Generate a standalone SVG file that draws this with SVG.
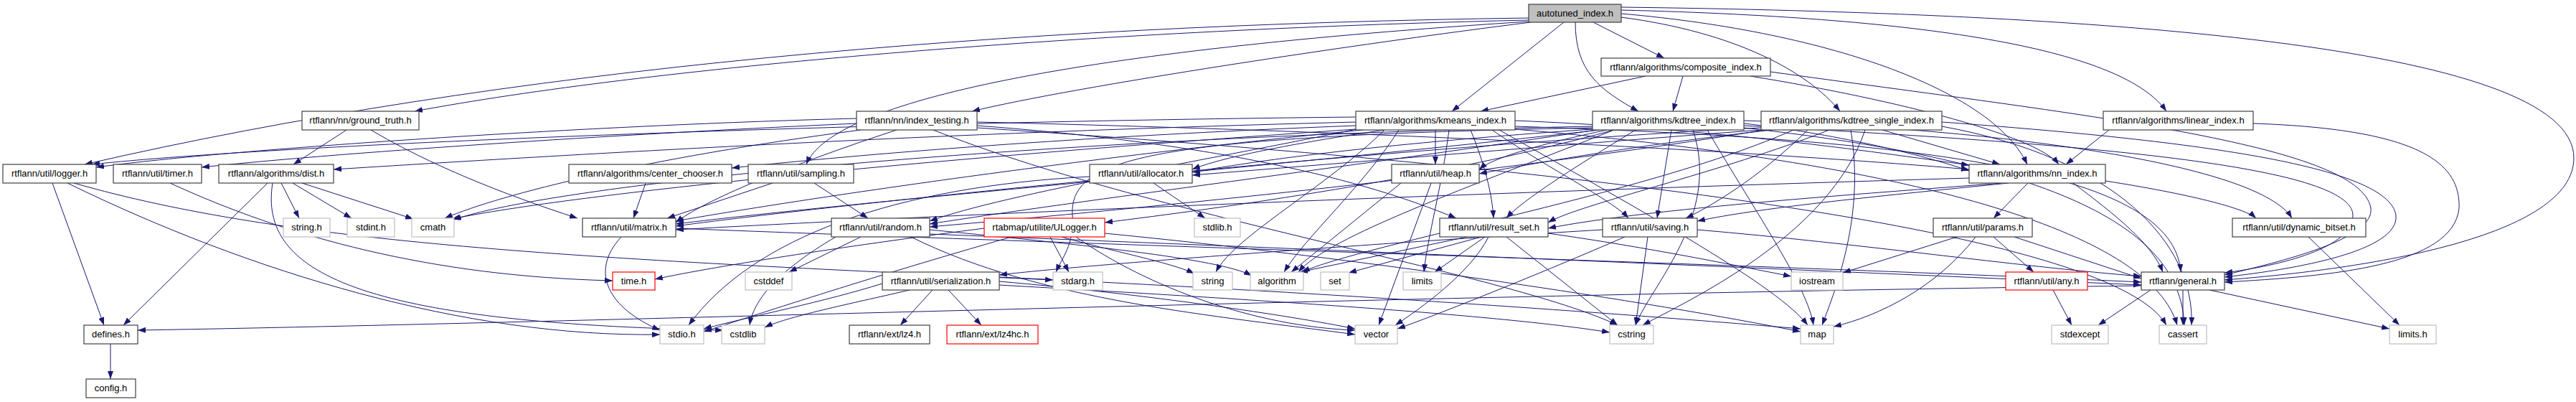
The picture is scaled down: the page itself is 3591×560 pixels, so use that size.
<svg xmlns="http://www.w3.org/2000/svg" width="3591" height="560" viewBox="0 0 3591 560">
<defs>
<marker id="a" markerWidth="11" markerHeight="8" refX="11" refY="4" orient="auto" markerUnits="userSpaceOnUse"><path d="M0,0 L11,4 L0,8 z" fill="#191970"/></marker>
<style>
.n rect{fill:#fff;stroke:#404040;stroke-width:1.2}
.s rect{fill:#fff;stroke:#bfbfbf;stroke-width:1.2}
.r rect{fill:#fff;stroke:#f00;stroke-width:1.2}
#n_auto rect{fill:#bfbfbf}
text{font-family:"Liberation Sans",Arial,sans-serif;font-size:13px;text-anchor:middle;fill:#000}
#edges path{fill:none;stroke:#191970;stroke-width:1;marker-end:url(#a)}
</style>
</defs>
<rect width="3591" height="560" fill="#fff"/>
<g id="edges">
<path d="M2131,25 C1400,35 700,95 118,229"/>
<path d="M2131,28 C1500,42 900,95 578,155"/>
<path d="M2134,31 C1900,60 1500,120 1355,155"/>
<path d="M2131,30 C1500,70 1160,140 1124,229"/>
<path d="M2180,31 L2024,155"/>
<path d="M2196,31 C2196,100 2230,125 2284,155"/>
<path d="M2221,31 L2320,81"/>
<path d="M2260,24 C2420,45 2520,100 2565,155"/>
<path d="M2260,19 C2560,45 2780,130 2826,229"/>
<path d="M2260,14 C2700,25 2960,70 3020,155"/>
<path d="M2260,10 C2900,18 3588,60 3588,220 C3588,330 3300,375 3101,390"/>
<path d="M2294,106 L2064,155"/>
<path d="M2346,106 L2332,155"/>
<path d="M2440,106 C2650,140 2840,190 2870,229"/>
<path d="M2468,100 C2900,160 3290,200 3305,290 C3310,330 3200,360 3101,383"/>
<path d="M483,181 L409,229"/>
<path d="M517,181 C600,230 700,270 805,304"/>
<path d="M1194,165 C800,175 300,210 134,233"/>
<path d="M1194,172 C900,185 500,210 281,233"/>
<path d="M1250,181 C1100,230 980,280 942,310"/>
<path d="M1362,170 C2000,185 2500,215 2745,236"/>
<path d="M1362,175 C1700,200 1900,250 2030,304"/>
<path d="M1301,181 C1600,300 2100,380 2255,453"/>
<path d="M1362,178 C2300,240 2950,330 3020,453"/>
<path d="M1200,181 C900,220 700,270 620,304"/>
<path d="M1890,163 C1200,170 400,200 128,229"/>
<path d="M1890,170 C1300,185 800,215 465,236"/>
<path d="M1890,175 C1500,190 1200,215 1020,234"/>
<path d="M1900,181 C1500,220 1100,280 942,308"/>
<path d="M1930,181 C1800,200 1700,220 1662,236"/>
<path d="M2001,181 L2001,229"/>
<path d="M1900,178 C1700,220 1400,270 1296,308"/>
<path d="M2050,181 C2070,230 2080,270 2082,304"/>
<path d="M2080,181 C2150,230 2250,280 2270,304"/>
<path d="M2112,168 C2400,180 2600,210 2745,230"/>
<path d="M2112,176 C2700,195 3030,240 3040,379"/>
<path d="M1950,181 C1900,260 1820,330 1790,379"/>
<path d="M1930,181 C1850,260 1720,330 1695,379"/>
<path d="M2090,181 C2300,300 2480,400 2520,453"/>
<path d="M2112,180 C2700,230 3000,330 3035,453"/>
<path d="M2020,181 C2010,260 1990,330 1985,379"/>
<path d="M1890,180 C1300,220 800,270 630,305"/>
<path d="M2431,175 C2900,200 3280,230 3280,300 C3280,345 3180,370 3101,380"/>
<path d="M2431,172 C2550,185 2680,215 2745,238"/>
<path d="M2431,168 C2800,180 3150,230 3195,304"/>
<path d="M2230,181 C1800,230 1200,280 942,312"/>
<path d="M2280,181 C2200,230 2120,280 2100,304"/>
<path d="M2240,181 C2150,200 2080,220 2062,236"/>
<path d="M2220,180 C2000,195 1800,215 1662,240"/>
<path d="M2225,181 C1900,230 1500,280 1296,312"/>
<path d="M2330,181 L2310,304"/>
<path d="M2250,181 C2050,260 1850,330 1810,379"/>
<path d="M2380,181 C2450,300 2520,400 2528,453"/>
<path d="M2431,178 C2900,230 3040,330 3045,453"/>
<path d="M2360,181 C2400,300 2300,400 2280,453"/>
<path d="M2220,178 C1600,190 1490,220 1495,300 C1498,340 1480,360 1472,379"/>
<path d="M2220,176 C1500,190 800,250 632,306"/>
<path d="M2250,181 C2000,250 1700,290 1540,310"/>
<path d="M2707,170 C3050,195 3330,230 3340,300 C3345,350 3200,375 3101,386"/>
<path d="M2624,181 L2788,229"/>
<path d="M2455,178 C2000,200 1200,280 942,315"/>
<path d="M2550,181 C2400,240 2200,285 2158,310"/>
<path d="M2470,181 C2300,200 2150,225 2062,242"/>
<path d="M2455,181 C2200,200 1900,225 1662,244"/>
<path d="M2460,181 C2100,240 1600,290 1296,316"/>
<path d="M2520,181 C2450,250 2380,290 2350,304"/>
<path d="M2500,181 C2300,270 1900,340 1815,379"/>
<path d="M2580,181 C2600,300 2560,400 2540,453"/>
<path d="M2707,176 C2950,220 3060,340 3055,453"/>
<path d="M2600,181 C2550,330 2350,420 2290,453"/>
<path d="M3141,172 C3380,180 3430,230 3428,290 C3420,370 3250,385 3101,393"/>
<path d="M2940,181 L2880,229"/>
<path d="M73,255 L145,453"/>
<path d="M94,255 C350,380 650,470 920,466"/>
<path d="M103,255 C400,340 800,360 1468,390"/>
<path d="M237,255 C400,330 600,385 854,391"/>
<path d="M373,255 L172,453"/>
<path d="M392,255 L417,304"/>
<path d="M408,255 L490,304"/>
<path d="M421,255 L576,305"/>
<path d="M380,255 C360,380 500,450 1008,460"/>
<path d="M900,255 L883,304"/>
<path d="M1077,255 L930,304"/>
<path d="M1135,255 L1210,304"/>
<path d="M1608,255 L1680,304"/>
<path d="M1519,246 C1250,260 1050,330 960,453"/>
<path d="M1995,255 L1922,453"/>
<path d="M1953,255 L1800,379"/>
<path d="M2745,248 C2000,270 1300,300 942,320"/>
<path d="M2827,255 L2779,304"/>
<path d="M2790,255 C2600,270 2300,290 2158,318"/>
<path d="M2800,255 C2600,275 2450,290 2366,308"/>
<path d="M2935,252 C3050,270 3130,290 3145,304"/>
<path d="M2890,255 C2950,300 3000,340 3015,379"/>
<path d="M866,330 C820,380 850,430 920,460"/>
<path d="M942,318 C1500,340 2500,370 2985,393"/>
<path d="M1200,330 L1100,379"/>
<path d="M1165,330 C1080,380 1050,420 1045,453"/>
<path d="M1296,320 C1500,340 1700,360 1745,384"/>
<path d="M1270,330 C1450,420 1700,440 1889,466"/>
<path d="M1296,326 C1900,350 2500,375 2985,397"/>
<path d="M1372,318 C1200,340 1000,370 913,389"/>
<path d="M1410,330 C1200,390 1050,440 981,462"/>
<path d="M1464,330 L1490,379"/>
<path d="M1480,330 C1550,350 1630,365 1665,381"/>
<path d="M1500,330 C1600,400 1750,455 1889,460"/>
<path d="M1540,325 C1900,360 2300,420 2510,462"/>
<path d="M2045,330 L1812,379"/>
<path d="M2065,330 L1880,380"/>
<path d="M2070,330 L2000,379"/>
<path d="M2075,330 C2050,380 1980,430 1945,453"/>
<path d="M2100,330 L2255,453"/>
<path d="M2158,325 C2300,345 2420,370 2497,385"/>
<path d="M2297,330 L2280,453"/>
<path d="M2265,330 C2150,380 2000,440 1948,458"/>
<path d="M2234,320 C1900,340 1500,370 1393,383"/>
<path d="M2366,320 C2600,340 2800,370 2985,385"/>
<path d="M2728,330 L2569,380"/>
<path d="M2754,330 C2700,400 2620,440 2556,455"/>
<path d="M2779,330 L2835,379"/>
<path d="M2808,330 L2985,388"/>
<path d="M3218,330 L3345,453"/>
<path d="M2985,398 C2000,410 800,450 192,460"/>
<path d="M2998,404 L2925,453"/>
<path d="M3043,404 L3043,453"/>
<path d="M3080,404 L3331,458"/>
<path d="M2862,404 L2888,453"/>
<path d="M1300,404 L1255,453"/>
<path d="M1322,404 L1368,453"/>
<path d="M1230,395 C1150,420 1050,440 981,458"/>
<path d="M1268,404 C1200,420 1100,440 1066,456"/>
<path d="M1393,392 C1600,410 1800,440 1889,458"/>
<path d="M1393,386 C1900,410 2300,440 2510,458"/>
<path d="M1393,397 C1800,420 2100,440 2244,463"/>
<path d="M154,479 L154,528"/>
</g>
<g id="n_auto" class="n"><rect x="2131" y="6" width="129" height="25"/><text x="2195.5" y="23">autotuned_index.h</text></g>
<g id="n_comp" class="n"><rect x="2232" y="81" width="236" height="25"/><text x="2350" y="98">rtflann/algorithms/composite_index.h</text></g>
<g id="n_gt" class="n"><rect x="421" y="155" width="163" height="26"/><text x="502.5" y="172">rtflann/nn/ground_truth.h</text></g>
<g id="n_it" class="n"><rect x="1194" y="155" width="168" height="26"/><text x="1278" y="172">rtflann/nn/index_testing.h</text></g>
<g id="n_km" class="n"><rect x="1890" y="155" width="222" height="26"/><text x="2001" y="172">rtflann/algorithms/kmeans_index.h</text></g>
<g id="n_kd" class="n"><rect x="2220" y="155" width="211" height="26"/><text x="2325.5" y="172">rtflann/algorithms/kdtree_index.h</text></g>
<g id="n_ks" class="n"><rect x="2455" y="155" width="252" height="26"/><text x="2581" y="172">rtflann/algorithms/kdtree_single_index.h</text></g>
<g id="n_lin" class="n"><rect x="2932" y="155" width="209" height="26"/><text x="3036.5" y="172">rtflann/algorithms/linear_index.h</text></g>
<g id="n_log" class="n"><rect x="4" y="229" width="130" height="26"/><text x="69" y="246">rtflann/util/logger.h</text></g>
<g id="n_tim" class="n"><rect x="158" y="229" width="123" height="26"/><text x="219.5" y="246">rtflann/util/timer.h</text></g>
<g id="n_dist" class="n"><rect x="305" y="229" width="160" height="26"/><text x="385" y="246">rtflann/algorithms/dist.h</text></g>
<g id="n_cc" class="n"><rect x="793" y="229" width="227" height="26"/><text x="906.5" y="246">rtflann/algorithms/center_chooser.h</text></g>
<g id="n_samp" class="n"><rect x="1043" y="229" width="147" height="26"/><text x="1116.5" y="246">rtflann/util/sampling.h</text></g>
<g id="n_alloc" class="n"><rect x="1519" y="229" width="143" height="26"/><text x="1590.5" y="246">rtflann/util/allocator.h</text></g>
<g id="n_heap" class="n"><rect x="1940" y="229" width="122" height="26"/><text x="2001" y="246">rtflann/util/heap.h</text></g>
<g id="n_nn" class="n"><rect x="2745" y="229" width="190" height="26"/><text x="2840" y="246">rtflann/algorithms/nn_index.h</text></g>
<g id="n_strh" class="s"><rect x="395" y="304" width="65" height="26"/><text x="427.5" y="321">string.h</text></g>
<g id="n_stdint" class="s"><rect x="484" y="304" width="66" height="26"/><text x="517" y="321">stdint.h</text></g>
<g id="n_cmath" class="s"><rect x="574" y="304" width="59" height="26"/><text x="603.5" y="321">cmath</text></g>
<g id="n_mat" class="n"><rect x="812" y="304" width="130" height="26"/><text x="877" y="321">rtflann/util/matrix.h</text></g>
<g id="n_rand" class="n"><rect x="1159" y="304" width="137" height="26"/><text x="1227.5" y="321">rtflann/util/random.h</text></g>
<g id="n_ulog" class="r"><rect x="1372" y="304" width="168" height="26"/><text x="1456" y="321">rtabmap/utilite/ULogger.h</text></g>
<g id="n_stdlib" class="s"><rect x="1665" y="304" width="64" height="26"/><text x="1697" y="321">stdlib.h</text></g>
<g id="n_rs" class="n"><rect x="2007" y="304" width="151" height="26"/><text x="2082.5" y="321">rtflann/util/result_set.h</text></g>
<g id="n_sav" class="n"><rect x="2234" y="304" width="132" height="26"/><text x="2300" y="321">rtflann/util/saving.h</text></g>
<g id="n_par" class="n"><rect x="2695" y="304" width="138" height="26"/><text x="2764" y="321">rtflann/util/params.h</text></g>
<g id="n_dyn" class="n"><rect x="3112" y="304" width="186" height="26"/><text x="3205" y="321">rtflann/util/dynamic_bitset.h</text></g>
<g id="n_time" class="r"><rect x="854" y="379" width="59" height="25"/><text x="883.5" y="396">time.h</text></g>
<g id="n_cstddef" class="s"><rect x="1039" y="379" width="65" height="25"/><text x="1071.5" y="396">cstddef</text></g>
<g id="n_ser" class="n"><rect x="1230" y="379" width="163" height="25"/><text x="1311.5" y="396">rtflann/util/serialization.h</text></g>
<g id="n_stdarg" class="s"><rect x="1468" y="379" width="69" height="25"/><text x="1502.5" y="396">stdarg.h</text></g>
<g id="n_string" class="s"><rect x="1663" y="379" width="55" height="25"/><text x="1690.5" y="396">string</text></g>
<g id="n_algo" class="s"><rect x="1743" y="379" width="74" height="25"/><text x="1780" y="396">algorithm</text></g>
<g id="n_set" class="s"><rect x="1841" y="379" width="40" height="25"/><text x="1861" y="396">set</text></g>
<g id="n_lim" class="s"><rect x="1956" y="379" width="53" height="25"/><text x="1982.5" y="396">limits</text></g>
<g id="n_ios" class="s"><rect x="2497" y="379" width="72" height="25"/><text x="2533" y="396">iostream</text></g>
<g id="n_any" class="r"><rect x="2796" y="379" width="114" height="25"/><text x="2853" y="396">rtflann/util/any.h</text></g>
<g id="n_gen" class="n"><rect x="2985" y="379" width="116" height="25"/><text x="3043" y="396">rtflann/general.h</text></g>
<g id="n_def" class="n"><rect x="117" y="453" width="75" height="26"/><text x="154.5" y="470">defines.h</text></g>
<g id="n_stdio" class="s"><rect x="920" y="453" width="61" height="26"/><text x="950.5" y="470">stdio.h</text></g>
<g id="n_cstdlib" class="s"><rect x="1006" y="453" width="60" height="26"/><text x="1036" y="470">cstdlib</text></g>
<g id="n_lz4" class="n"><rect x="1184" y="453" width="112" height="26"/><text x="1240" y="470">rtflann/ext/lz4.h</text></g>
<g id="n_lz4hc" class="r"><rect x="1320" y="453" width="127" height="26"/><text x="1383.5" y="470">rtflann/ext/lz4hc.h</text></g>
<g id="n_vec" class="s"><rect x="1889" y="453" width="59" height="26"/><text x="1918.5" y="470">vector</text></g>
<g id="n_cstr" class="s"><rect x="2244" y="453" width="61" height="26"/><text x="2274.5" y="470">cstring</text></g>
<g id="n_map" class="s"><rect x="2510" y="453" width="46" height="26"/><text x="2533" y="470">map</text></g>
<g id="n_stdexc" class="s"><rect x="2860" y="453" width="79" height="26"/><text x="2899.5" y="470">stdexcept</text></g>
<g id="n_cassert" class="s"><rect x="3010" y="453" width="66" height="26"/><text x="3043" y="470">cassert</text></g>
<g id="n_limh" class="s"><rect x="3331" y="453" width="65" height="26"/><text x="3363.5" y="470">limits.h</text></g>
<g id="n_cfg" class="n"><rect x="120" y="528" width="69" height="26"/><text x="154.5" y="545">config.h</text></g>
</svg>
